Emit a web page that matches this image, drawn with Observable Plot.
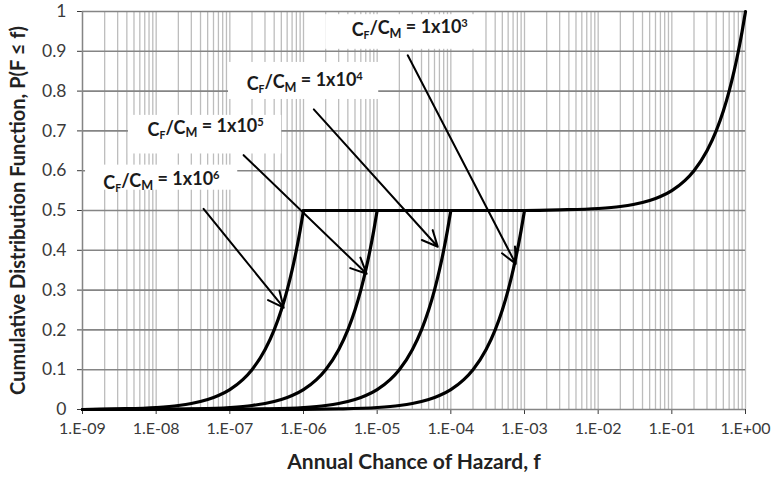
<!DOCTYPE html>
<html>
<head>
<meta charset="utf-8">
<script src="https://cdn.jsdelivr.net/npm/d3@7"></script>
<script src="https://cdn.jsdelivr.net/npm/@observablehq/plot@0.6"></script>
<style>
  body { margin: 0; background: #fff; }
  #chart svg { font-family: Lato, "Open Sans", sans-serif; }
</style>
</head>
<body>
<div id="chart"></div>
<script>
// ---- tick values and labels ----
const decades = [1e-9, 1e-8, 1e-7, 1e-6, 1e-5, 1e-4, 1e-3, 1e-2, 1e-1, 1e0];
const xTickLabels = ["1.E-09", "1.E-08", "1.E-07", "1.E-06", "1.E-05", "1.E-04", "1.E-03", "1.E-02", "1.E-01", "1.E+00"];
const yTicks = [0, 0.1, 0.2, 0.3, 0.4, 0.5, 0.6, 0.7, 0.8, 0.9, 1];
const yTickLabels = ["0", "0.1", "0.2", "0.3", "0.4", "0.5", "0.6", "0.7", "0.8", "0.9", "1"];
const minorMultipliers = [1, 2, 3, 4, 5, 6, 7, 8, 9];

// ---- series ----
// CF/CM = 1x10^6 : rises to 0.5 at f = 1e-6
const c6F = [1e-9, 3e-9, 1e-8, 2e-8, 3e-8, 5e-8, 7e-8, 1e-7, 1.5e-7, 2e-7, 3e-7, 4e-7, 5e-7, 6e-7, 7e-7, 8e-7, 9e-7, 1e-6];
const c6P = [0, 0.0015, 0.005, 0.01, 0.015, 0.025, 0.035, 0.05, 0.075, 0.1, 0.15, 0.2, 0.25, 0.3, 0.35, 0.4, 0.45, 0.5];
// CF/CM = 1x10^5 : rises to 0.5 at f = 1e-5
const c5F = [1e-9, 1e-8, 3e-8, 1e-7, 2e-7, 3e-7, 5e-7, 7e-7, 1e-6, 1.5e-6, 2e-6, 3e-6, 4e-6, 5e-6, 6e-6, 7e-6, 8e-6, 9e-6, 1e-5];
const c5P = [0, 0.0005, 0.0015, 0.005, 0.01, 0.015, 0.025, 0.035, 0.05, 0.075, 0.1, 0.15, 0.2, 0.25, 0.3, 0.35, 0.4, 0.45, 0.5];
// CF/CM = 1x10^4 : rises to 0.5 at f = 1e-4
const c4F = [1e-9, 1e-7, 3e-7, 1e-6, 2e-6, 3e-6, 5e-6, 7e-6, 1e-5, 1.5e-5, 2e-5, 3e-5, 4e-5, 5e-5, 6e-5, 7e-5, 8e-5, 9e-5, 1e-4];
const c4P = [0, 0.0005, 0.0015, 0.005, 0.01, 0.015, 0.025, 0.035, 0.05, 0.075, 0.1, 0.15, 0.2, 0.25, 0.3, 0.35, 0.4, 0.45, 0.5];
// CF/CM = 1x10^3 : rises to 0.5 at f = 1e-3
const c3F = [1e-9, 1e-6, 3e-6, 1e-5, 2e-5, 3e-5, 5e-5, 7e-5, 1e-4, 1.5e-4, 2e-4, 3e-4, 4e-4, 5e-4, 6e-4, 7e-4, 8e-4, 9e-4, 1e-3];
const c3P = [0, 0.0005, 0.0015, 0.005, 0.01, 0.015, 0.025, 0.035, 0.05, 0.075, 0.1, 0.15, 0.2, 0.25, 0.3, 0.35, 0.4, 0.45, 0.5];
// common upper branch
const upF = [1e-6, 1e-5, 1e-4, 1e-3, 3e-3, 1e-2, 2e-2, 3e-2, 5e-2, 7e-2, 0.1, 0.15, 0.2, 0.3, 0.4, 0.5, 0.6, 0.7, 0.8, 0.9, 1.0];
const upP = [0.5, 0.5, 0.5, 0.5, 0.5015, 0.505, 0.51, 0.515, 0.525, 0.535, 0.55, 0.575, 0.6, 0.65, 0.7, 0.75, 0.8, 0.85, 0.9, 0.95, 1.0];

// ---- annotations (data coordinates) ----
const labelExp = ["6", "5", "4", "3"];
const labelF = [1.18e-8, 4.7e-8, 1.04e-6, 2.77e-5];
const labelP = [0.569, 0.702, 0.817, 0.952];
const boxF1 = [1.1e-9, 4.2e-9, 9.6e-8, 2.0e-6];
const boxF2 = [1.28e-7, 5.06e-7, 1.05e-5, 2.4e-4];
const boxP1 = [0.551, 0.642, 0.779, 0.905];
const boxP2 = [0.614, 0.739, 0.872, 0.992];
const arrowF1 = [4.4e-8, 1.54e-7, 1.38e-6, 2.6e-5];
const arrowP1 = [0.504, 0.639, 0.754, 0.890];
const arrowF2 = [5.38e-7, 7.2e-6, 6.65e-5, 7.6e-4];
const arrowP2 = [0.256, 0.341, 0.409, 0.366];

const xTitle = "Annual Chance of Hazard, f";
const yTitle = "Cumulative Distribution Function, P(F \u2264 f)";

// ---- build tables ----
const seriesList = [["1e6", c6F, c6P], ["1e5", c5F, c5P], ["1e4", c4F, c4P], ["1e3", c3F, c3P], ["upper", upF, upP]];
const rows = seriesList.flatMap(([s, F, P]) => F.map((f, i) => ({series: s, f, p: P[i]})));
const minorGrid = decades.slice(0, -1).flatMap(d => minorMultipliers.map(m => d * m)).concat([1]);
const labels = labelExp.map((e, i) => ({f: labelF[i], p: labelP[i], text: "CF/CM = 1x10" + e, exp: e}));
const boxes = labelExp.map((e, i) => ({x1: boxF1[i], x2: boxF2[i], y1: boxP1[i], y2: boxP2[i]}));
const arrows = labelExp.map((e, i) => ({x1: arrowF1[i], y1: arrowP1[i], x2: arrowF2[i], y2: arrowP2[i]}));

const plot = Plot.plot({
  width: 774,
  height: 480,
  marginLeft: 82,
  marginRight: 29,
  marginTop: 11,
  marginBottom: 71,
  style: {fontSize: "16px", color: "#3a3a3a", background: "white"},
  x: {type: "log", domain: [1e-9, 1], ticks: decades,
      tickFormat: d => xTickLabels[decades.indexOf(d)], tickSize: 5, tickPadding: 8, label: null},
  y: {domain: [0, 1], ticks: yTicks,
      tickFormat: d => yTickLabels[yTicks.indexOf(d)], tickSize: 5, tickPadding: 11, label: null},
  marks: [
    Plot.ruleX(minorGrid, {stroke: "#bdbdbd", strokeWidth: 1.3}),
    Plot.ruleY(yTicks, {stroke: "#858585", strokeWidth: 1.6}),
    Plot.ruleX([1e-9], {stroke: "#858585", strokeWidth: 1.4}),
    Plot.rect(boxes, {x1: "x1", x2: "x2", y1: "y1", y2: "y2", fill: "white"}),
    Plot.line(rows, {x: "f", y: "p", z: "series", stroke: "black", strokeWidth: 3.2, curve: "monotone-x"}),
    Plot.arrow(arrows, {x1: "x1", y1: "y1", x2: "x2", y2: "y2", stroke: "black", strokeWidth: 2, headLength: 13, headAngle: 50}),
    Plot.text(labels, {x: "f", y: "p", text: "text", fontWeight: "bold", fontSize: 18, fill: "#1a1a1a", className: "cflabel"}),
    Plot.text([xTitle], {frameAnchor: "bottom", dy: 59, fontWeight: "bold", fontSize: 21, fill: "#222"}),
    Plot.text([yTitle], {frameAnchor: "left", textAnchor: "middle", dx: -64, rotate: -90, fontWeight: "bold", fontSize: 20, fill: "#222"})
  ]
});

document.getElementById("chart").appendChild(plot);

// larger y tick labels (as in the reference)
d3.select(plot).selectAll('g[aria-label="y-axis tick label"] text').attr("font-size", "17.5px");

// rich text: subscripts / superscript in the labels
d3.select(plot).selectAll("g.cflabel text").each(function(_, i) {
  const t = d3.select(this);
  const e = labels[i].exp;
  t.text(null);
  t.append("tspan").text("C");
  t.append("tspan").attr("font-size", "58%").attr("dy", "0.28em").text("F");
  t.append("tspan").attr("dy", "-0.28em").text("/C");
  t.append("tspan").attr("font-size", "70%").attr("dy", "0.28em").text("M");
  t.append("tspan").attr("dy", "-0.28em").text(" = 1x10");
  t.append("tspan").attr("font-size", "62%").attr("dy", "-0.55em").text(e);
});
</script>
</body>
</html>
